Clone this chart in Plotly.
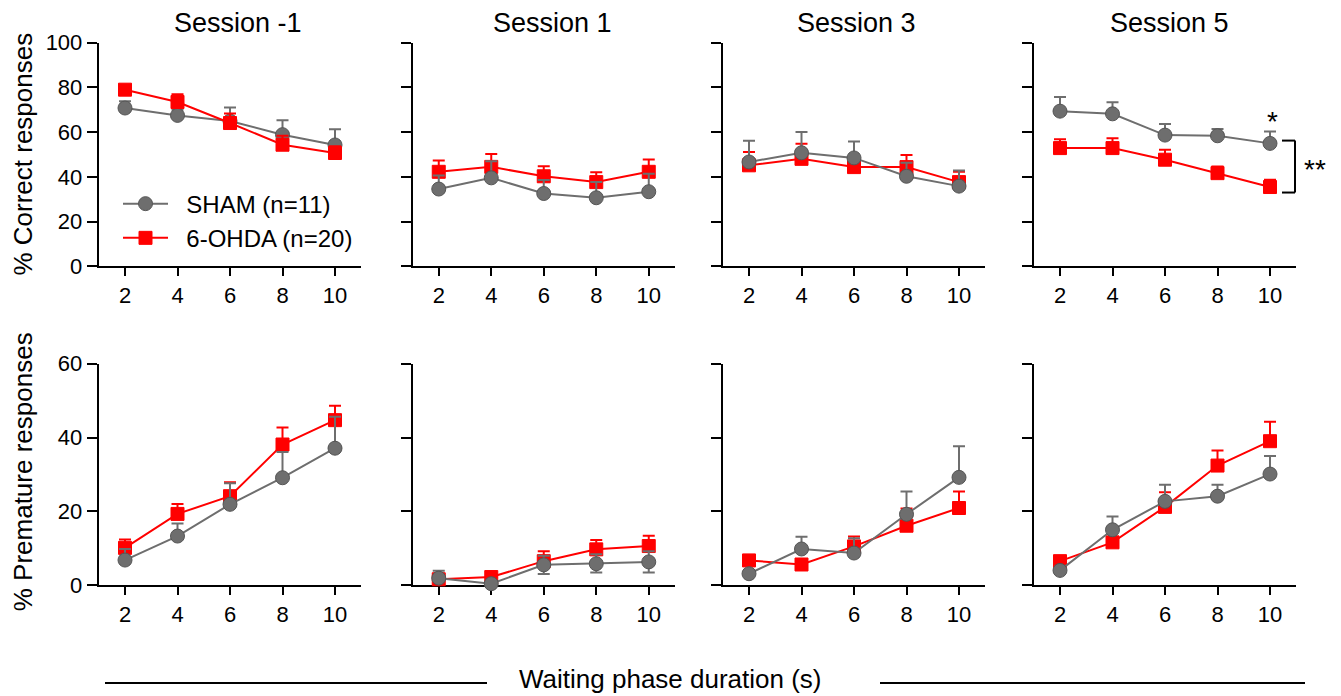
import plotly.graph_objects as go

# ---------------- data ----------------
durations = [2, 4, 6, 8, 10]
sessions = ["Session -1", "Session 1", "Session 3", "Session 5"]
sham_label = "\u00a0\u00a0SHAM (n=11)"
ohda_label = "\u00a0\u00a06-OHDA (n=20)"

correct_sham = [
    [70.8, 67.5, 65.0, 58.9, 54.3],
    [34.6, 39.6, 32.6, 30.7, 33.4],
    [46.7, 50.8, 48.5, 40.3, 35.9],
    [69.4, 68.2, 58.7, 58.4, 55.0],
]
correct_sham_err = [
    [3.0, 2.5, 6.0, 6.4, 7.0],
    [6.0, 7.4, 6.0, 7.0, 8.0],
    [9.5, 9.3, 7.3, 6.0, 7.0],
    [6.3, 5.2, 5.0, 3.0, 5.3],
]
correct_ohda = [
    [79.0, 73.5, 64.1, 54.4, 50.7],
    [42.3, 44.5, 40.3, 37.7, 42.3],
    [45.2, 48.1, 44.4, 44.4, 37.7],
    [52.9, 52.9, 47.7, 41.7, 35.5],
]
correct_ohda_err = [
    [2.0, 3.5, 4.3, 4.0, 3.0],
    [5.0, 5.8, 4.5, 4.4, 5.5],
    [5.9, 6.7, 3.0, 5.4, 4.6],
    [4.0, 4.4, 4.4, 3.0, 3.2],
]

premature_sham = [
    [6.8, 13.3, 21.9, 29.1, 37.1],
    [1.9, 0.4, 5.5, 5.8, 6.3],
    [3.1, 9.8, 8.7, 19.2, 29.2],
    [4.0, 15.0, 22.7, 24.1, 30.1],
]
premature_sham_err = [
    [3.0, 3.4, 5.7, 7.0, 8.5],
    [2.0, 0.5, 2.5, 2.6, 2.9],
    [1.0, 3.3, 4.0, 6.2, 8.4],
    [1.0, 3.6, 4.5, 3.1, 4.9],
]
premature_sham_err_minus = [
    [0, 0, 0, 0, 0],
    [0, 0, 2.5, 2.4, 2.9],
    [0, 0, 0, 0, 0],
    [0, 0, 0, 0, 0],
]
premature_ohda = [
    [10.1, 19.3, 24.1, 38.1, 44.7],
    [1.6, 2.2, 6.5, 9.7, 10.6],
    [6.7, 5.6, 10.5, 16.1, 20.9],
    [6.5, 11.6, 21.2, 32.4, 39.0],
]
premature_ohda_err = [
    [2.3, 2.7, 3.8, 4.6, 3.9],
    [1.0, 1.0, 2.7, 2.5, 2.8],
    [1.0, 1.0, 2.7, 4.7, 4.5],
    [1.0, 1.0, 4.0, 4.1, 5.3],
]

correct_ticks = [0, 20, 40, 60, 80, 100]
premature_ticks = [0, 20, 40, 60]

# ---------------- style ----------------
W, H = 1341, 696
FONT = "Liberation Sans, Arial, sans-serif"
GRAY = "#6e6e6e"
GRAY_EDGE = "#555555"
RED = "#ff0000"

# placement helpers (target pixel in the photographed page -> paper fraction)
OFFX, OFFY, SY = 8.0, 20.3, 0.965


def px_x(p):
    return (p - OFFX) / W


def px_y(p):
    return 1 - ((p - OFFY) / SY) / H


xdom_px = [(98.75, 361.25), (412.5, 675.0), (722.75, 985.25), (1033.75, 1296.25)]
ydom_px = [(43.0, 267.0), (364.3, 586.0)]

fig = go.Figure()
layout = {}

rows = [
    (correct_sham, correct_sham_err, None, correct_ohda, correct_ohda_err, correct_ticks),
    (premature_sham, premature_sham_err, premature_sham_err_minus,
     premature_ohda, premature_ohda_err, premature_ticks),
]

for r, (s_vals, s_err, s_errm, o_vals, o_err, yt) in enumerate(rows):
    for c in range(4):
        idx = r * 4 + c + 1
        xa = "x" if idx == 1 else f"x{idx}"
        ya = "y" if idx == 1 else f"y{idx}"
        show_leg = (r == 0 and c == 0)

        sham = go.Scatter(
            x=durations, y=s_vals[c], xaxis=xa, yaxis=ya, mode="lines+markers",
            name=sham_label, legendgroup="sham", showlegend=show_leg,
            line=dict(color=GRAY, width=2),
            marker=dict(symbol="circle", size=14, color=GRAY,
                        line=dict(color=GRAY_EDGE, width=1)),
            error_y=dict(type="data", array=s_err[c],
                         arrayminus=(s_errm[c] if s_errm else [0] * 5),
                         symmetric=False, color=GRAY, thickness=2, width=6),
            cliponaxis=False,
        )
        ohda = go.Scatter(
            x=durations, y=o_vals[c], xaxis=xa, yaxis=ya, mode="lines+markers",
            name=ohda_label, legendgroup="ohda", showlegend=show_leg,
            line=dict(color=RED, width=2),
            marker=dict(symbol="square", size=13, color=RED,
                        line=dict(color=RED, width=1)),
            error_y=dict(type="data", array=o_err[c], arrayminus=[0] * 5,
                         symmetric=False, color=RED, thickness=2, width=6),
            cliponaxis=False,
        )
        # drawing order: red on top in first panel, gray on top elsewhere
        if r == 0 and c == 0:
            fig.add_trace(sham)
            fig.add_trace(ohda)
        else:
            fig.add_trace(ohda)
            fig.add_trace(sham)

        x0, x1 = xdom_px[c]
        y0, y1 = ydom_px[r]
        kx = "xaxis" if idx == 1 else f"xaxis{idx}"
        ky = "yaxis" if idx == 1 else f"yaxis{idx}"
        layout[kx] = dict(
            domain=[px_x(x0), px_x(x1)], anchor=ya, range=[1, 11],
            tickvals=durations, ticks="outside", ticklen=8, tickwidth=2,
            tickcolor="black", showline=True, linewidth=2, linecolor="black",
            showgrid=False, zeroline=False, layer="below traces",
            tickfont=dict(size=22, color="black", family=FONT),
        )
        layout[ky] = dict(
            domain=[px_y(y1), px_y(y0)], anchor=xa, range=[yt[0], yt[-1]],
            tickvals=yt, ticks="outside", ticklen=10, tickwidth=2,
            tickcolor="black", showline=True, linewidth=2, linecolor="black",
            showgrid=False, zeroline=False, showticklabels=(c == 0),
            tickfont=dict(size=22, color="black", family=FONT),
        )

annotations = []
title_cx = [238, 552, 856, 1169]
for c, name in enumerate(sessions):
    annotations.append(dict(
        text=name, x=px_x(title_cx[c]), y=px_y(23), xref="paper", yref="paper",
        xanchor="center", yanchor="middle", showarrow=False,
        font=dict(size=27, color="black", family=FONT)))

annotations.append(dict(
    text="% Correct responses", x=px_x(23), y=px_y(155), xref="paper", yref="paper",
    textangle=-90, xanchor="center", yanchor="middle", showarrow=False,
    font=dict(size=26, color="black", family=FONT)))
annotations.append(dict(
    text="% Premature responses", x=px_x(23), y=px_y(473), xref="paper", yref="paper",
    textangle=-90, xanchor="center", yanchor="middle", showarrow=False,
    font=dict(size=26, color="black", family=FONT)))
annotations.append(dict(
    text="Waiting phase duration (s)", x=px_x(670), y=px_y(680), xref="paper",
    yref="paper", xanchor="center", yanchor="middle", showarrow=False,
    font=dict(size=26, color="black", family=FONT)))

# significance marks
annotations.append(dict(
    text="*", x=px_x(1272), y=px_y(122), xref="paper", yref="paper",
    xanchor="center", yanchor="middle", showarrow=False,
    font=dict(size=28, color="black", family=FONT)))
annotations.append(dict(
    text="**", x=px_x(1315), y=px_y(170), xref="paper", yref="paper",
    xanchor="center", yanchor="middle", showarrow=False,
    font=dict(size=28, color="black", family=FONT)))

shapes = []
# bracket
bx0, bx1, by0, by1 = 1282, 1295, 141, 193
line_k = dict(color="black", width=2)
for (a, b, cc, d) in [(bx0, by0, bx1, by0), (bx1, by0, bx1, by1), (bx0, by1, bx1, by1)]:
    shapes.append(dict(type="line", xref="paper", yref="paper",
                       x0=px_x(a), y0=px_y(b), x1=px_x(cc), y1=px_y(d), line=line_k))
# lines flanking x title
for (a, b) in [(105, 487), (880, 1305)]:
    shapes.append(dict(type="line", xref="paper", yref="paper",
                       x0=px_x(a), y0=px_y(684), x1=px_x(b), y1=px_y(684),
                       line=line_k))

fig.update_layout(
    width=W, height=H, margin=dict(l=0, r=0, t=0, b=0),
    paper_bgcolor="white", plot_bgcolor="white",
    font=dict(family=FONT, color="black"),
    annotations=annotations, shapes=shapes,
    legend=dict(x=px_x(118), y=px_y(182), xanchor="left", yanchor="top",
                bgcolor="rgba(0,0,0,0)", font=dict(size=24, color="black", family=FONT),
                itemwidth=45, tracegroupgap=0, traceorder="grouped"),
    showlegend=True,
    **layout,
)

fig.write_html("out.html")
